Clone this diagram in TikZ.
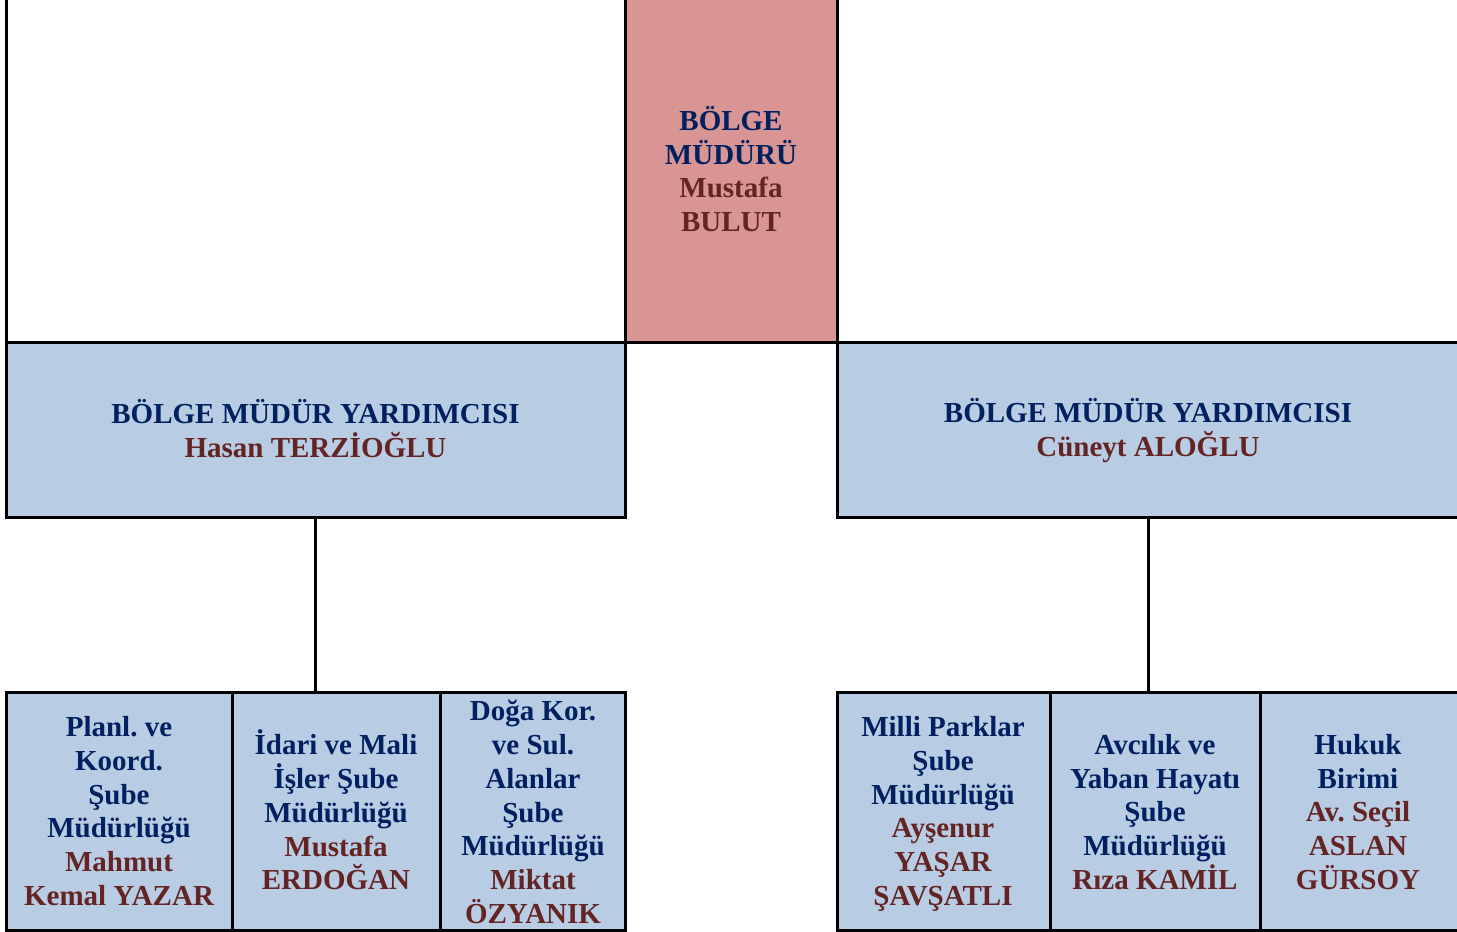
\documentclass[tikz,border=0pt]{standalone}
\usepackage{fontspec}
\setmainfont{Liberation Serif}
\frenchspacing
\definecolor{navy}{HTML}{002060}
\definecolor{dred}{HTML}{632423}
\definecolor{bfill}{HTML}{B8CCE4}
\definecolor{rfill}{HTML}{D99594}
\tikzset{
  cell/.style={draw=black, line width=3pt, anchor=north west, inner sep=0pt, outer sep=0pt},
  bluecell/.style={cell, fill=bfill},
  txt/.style={align=center, font=\fontsize{29}{33.8}\selectfont\bfseries, text=navy, inner sep=0pt},
  conn/.style={draw=black, line width=3pt},
}
\newcommand{\nm}[1]{\textcolor{dred}{#1}}
\begin{document}
\begin{tikzpicture}[x=1pt,y=-1pt]
\useasboundingbox (0,0) rectangle (1457,932);
\clip (0,0) rectangle (1457,932);
% top row
\node[cell, minimum width=619pt, minimum height=382pt] (topL) at (6,-40) {};
\node[cell, minimum width=622pt, minimum height=382pt] (topR) at (837,-40) {};
\node[cell, fill=rfill, minimum width=212pt, minimum height=382pt] (boss) at (625,-40) {};
\node[txt] (bossT) at (731,169) {BÖLGE\\MÜDÜRÜ\\\nm{Mustafa}\\\nm{BULUT}};
% deputies
\node[bluecell, minimum width=619pt, minimum height=175pt] (dL) at (6,342) {};
\node[bluecell, minimum width=622pt, minimum height=175pt] (dR) at (837,342) {};
\node[txt] (dLT) at (315.5,428.5) {BÖLGE MÜDÜR YARDIMCISI\\\nm{Hasan TERZİOĞLU}};
\node[txt] (dRT) at (1148,430.5) {BÖLGE MÜDÜR YARDIMCISI\\\nm{Cüneyt ALOĞLU}};
% bottom row
\node[bluecell, minimum width=226pt, minimum height=238pt] (b1) at (6,692) {};
\node[bluecell, minimum width=208pt, minimum height=238pt] (b2) at (232,692) {};
\node[bluecell, minimum width=185pt, minimum height=238pt] (b3) at (440,692) {};
\node[bluecell, minimum width=213pt, minimum height=238pt] (b4) at (837,692) {};
\node[bluecell, minimum width=210pt, minimum height=238pt] (b5) at (1050,692) {};
\node[bluecell, minimum width=199pt, minimum height=238pt] (b6) at (1260,692) {};
\node[txt] (b1T) at (119,811) {Planl. ve\\Koord.\\Şube\\Müdürlüğü\\\nm{Mahmut}\\\nm{Kemal YAZAR}};
\node[txt] (b2T) at (336,810) {İdari ve Mali\\İşler Şube\\Müdürlüğü\\\nm{Mustafa}\\\nm{ERDOĞAN}};
\node[txt] (b3T) at (533,812) {Doğa Kor.\\ve Sul.\\Alanlar\\Şube\\Müdürlüğü\\\nm{Miktat}\\\nm{ÖZYANIK}};
\node[txt] (b4T) at (943,814) {Milli Parklar\\Şube\\Müdürlüğü\\\nm{Ayşenur}\\\nm{YAŞAR}\\\nm{ŞAVŞATLI}};
\node[txt] (b5T) at (1155,812) {Avcılık ve\\Yaban Hayatı\\Şube\\Müdürlüğü\\\nm{Rıza KAMİL}};
\node[txt] (b6T) at (1358,812) {Hukuk\\Birimi\\\nm{Av. Seçil}\\\nm{ASLAN}\\\nm{GÜRSOY}};
% connectors
\draw[conn] (dL.south) -- (dL.south |- b1.north);
\draw[conn] (dR.south) -- (dR.south |- b4.north);
\end{tikzpicture}
\end{document}
